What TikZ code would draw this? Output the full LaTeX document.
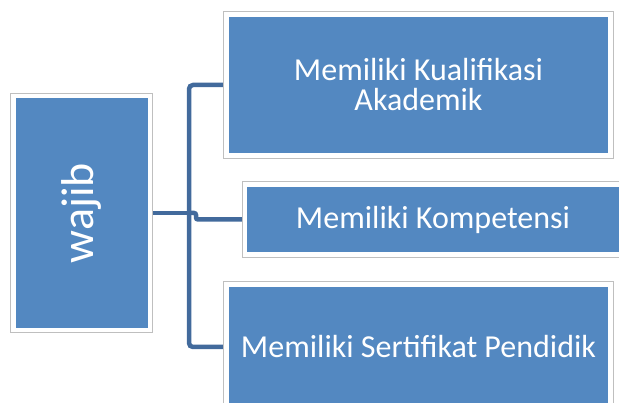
\documentclass[tikz,border=0pt]{standalone}
\usepackage{fontspec}
\setmainfont{Carlito}
\usetikzlibrary{backgrounds}
\definecolor{boxblue}{RGB}{83,136,193}
\definecolor{linkblue}{RGB}{66,106,156}
\tikzset{
  boxstyle/.style={rectangle, fill=boxblue, draw=white, line width=4.5pt,
    preaction={draw=black!25, line width=6.4pt},
    text=white, align=center, inner sep=0pt, font=\fontsize{32}{30}\selectfont},
  conn/.style={draw=linkblue, line width=4.5pt, rounded corners=4pt},
}
\begin{document}
\begin{tikzpicture}[x=1pt,y=-1pt]
\useasboundingbox (0,0) rectangle (619,403);
\clip (0,0) rectangle (619,403);
\node[boxstyle, minimum width=136.5pt, minimum height=234pt] (wajib) at (81.75,213)
  {\rotatebox{90}{\fontsize{46}{46}\selectfont wajib}};
\node[boxstyle, minimum width=384pt, minimum height=141pt] (top) at (418.5,85)
  {Memiliki Kualifikasi\\Akademik};
\node[boxstyle, minimum width=390pt, minimum height=70pt, anchor=west] (mid) at (242.5,219.5) {};
\node[text=white, font=\fontsize{32}{30}\selectfont] (midtext) at (433,219.5) {Memiliki Kompetensi};
\node[boxstyle, minimum width=384pt, minimum height=125pt] (bot) at (418.5,347)
  {Memiliki Sertifikat Pendidik};
\coordinate (spine) at (189,213);
\begin{pgfonlayer}{background}
\draw[conn] (top.west) -| (spine) |- (bot.west);
\draw[conn] (wajib.east) -- (spine);
\draw[conn, rounded corners=2pt] (spine) -- ++(7,0) |- (mid.west);
\end{pgfonlayer}
\end{tikzpicture}
\end{document}
